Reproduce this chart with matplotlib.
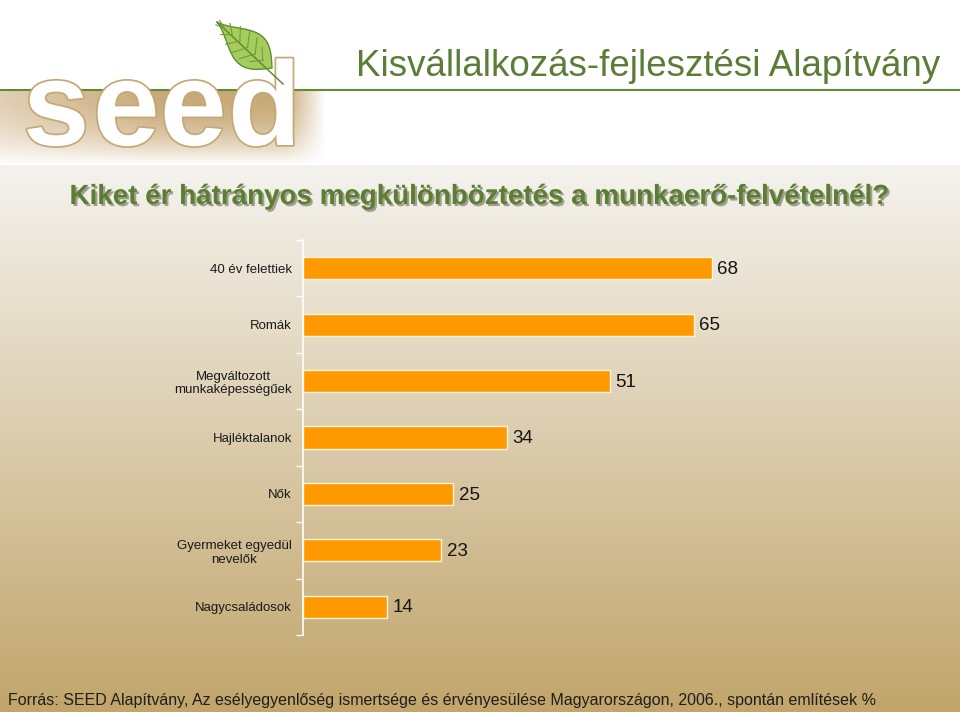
import numpy as np
import matplotlib
matplotlib.use("Agg")
import matplotlib.pyplot as plt
import matplotlib.patheffects as pe
from matplotlib.patches import Rectangle, Polygon

plt.rcParams['font.family'] = ['Liberation Sans', 'DejaVu Sans']

# data
categories = ['40 év felettiek', 'Romák', 'Megváltozott\nmunkaképességűek',
              'Hajléktalanok', 'Nők', 'Gyermeket egyedül\nnevelők', 'Nagycsaládosok']
values = [68, 65, 51, 34, 25, 23, 14]

header = 'Kisvállalkozás-fejlesztési Alapítvány'
title = 'Kiket ér hátrányos megkülönböztetés a munkaerő-felvételnél?'
source = ('Forrás: SEED Alapítvány, Az esélyegyenlőség ismertsége és érvényesülése '
          'Magyarországon, 2006., spontán említések %')

W, H = 960, 712
fig = plt.figure(figsize=(9.6, 7.12), dpi=100)

# background axes in pixel coordinates
bg = fig.add_axes([0, 0, 1, 1])
bg.set_xlim(0, W)
bg.set_ylim(H, 0)
bg.axis('off')

img = np.ones((H, W, 3))
top = np.array([245, 243, 239]) / 255
bot = np.array([193, 165, 106]) / 255
t = np.clip((np.arange(H) - 165) / (H - 165), 0, 1)[:, None]
grad = top * (1 - t) + bot * t
img[165:] = grad[165:, None, :]
bg.imshow(img, extent=(0, W, H, 0), aspect='auto', zorder=0)

# tan strip behind logo
strip = np.zeros((75, 325, 4))
strip[..., :3] = np.array([200, 168, 118]) / 255
tv = np.linspace(0, 1, 75)[:, None]
a = (1 - tv ** 2) * np.clip(np.linspace(0.55, 1.5, 325), 0, 1)[None, :]
strip[..., 3] = a * np.clip((325 - np.arange(325)) / 40, 0, 1)[None, :]
bg.imshow(strip, extent=(0, 325, 165, 90), aspect='auto', zorder=1)

green = '#4f7a2c'
bg.plot([0, W], [90, 90], color='#5f8a3a', lw=1.5, zorder=2)

# logo "seed", one letter at a time
clip_top = Rectangle((0, 0), W, 90, transform=bg.transData)
clip_bot = Rectangle((0, 90), W, 80, transform=bg.transData)
for ch, lx in zip('seed', [23, 93, 160, 228]):
    t1 = bg.text(lx, 145, ch, fontsize=86, fontweight='bold', color=green,
                 ha='left', va='baseline', zorder=3)
    t1.set_clip_path(clip_top)
    t2 = bg.text(lx, 145, ch, fontsize=86, fontweight='bold', color='white',
                 ha='left', va='baseline', zorder=3,
                 path_effects=[pe.withStroke(linewidth=2.5, foreground='#c4a877')])
    t2.set_clip_path(clip_bot)

# leaf
tip = np.array([217.0, 22.0])
base = np.array([272.0, 68.0])
axis_v = base - tip
L = np.hypot(*axis_v)
u = axis_v / L
n = np.array([-u[1], u[0]])
s = np.linspace(0, 1, 40)
half = 18 * np.sin(np.pi * s ** 1.4)
side1 = tip + np.outer(s * L, u) + np.outer(half, n)
side2 = tip + np.outer(s * L, u) - np.outer(half, n)
leaf = np.vstack([side1, side2[::-1]])
bg.add_patch(Polygon(leaf, closed=True, facecolor='#a6cc5e', edgecolor='#5e8f2f', lw=1.0, zorder=3))
bg.plot([tip[0], 283], [tip[1], 84], color='#5e8f2f', lw=1.1, zorder=4)
for k in range(1, 7):
    f = k / 7.2
    p = tip + u * L * f
    w = 16 * np.sin(np.pi * f ** 1.4)
    for sg in (1, -1):
        q = p + n * w * sg * 0.9 - u * 9
        bg.plot([p[0], q[0]], [p[1], q[1]], color='#6f9e3c', lw=0.8, zorder=4)

bg.text(940, 67, header, fontsize=26.5, color='#5b7d36', ha='right', va='center', zorder=3)

bg.text(479, 197, title, fontsize=20, fontweight='bold', color='#5a7f32',
        ha='center', va='center', zorder=3,
        path_effects=[pe.SimplePatchShadow(offset=(1.5, -1.5), shadow_rgbFace='#6b6b5a', alpha=0.6),
                      pe.Normal()])

bg.text(8, 700, source, fontsize=11.5, color='#1e1e1e', ha='left', va='center', zorder=3)

# bar chart
ax = fig.add_axes([303 / W, 1 - 635 / H, 601 / W, 395 / H])
ax.patch.set_alpha(0)
y = np.arange(len(categories))
ax.barh(y, values, height=0.39, color='#ff9900', edgecolor='#fff4dc', linewidth=1.0, zorder=2)
for yi, v in zip(y, values):
    ax.text(v + 0.9, yi + 0.02, str(v), fontsize=13.5, color='#141414', va='center', ha='left')
ax.set_xlim(0, 100)
ax.set_ylim(len(categories) - 0.5, -0.5)
ax.set_yticks(y)
ax.set_yticklabels(categories, fontsize=9.5, color='#1a1a1a', multialignment='center')
ax.set_yticks(np.arange(len(categories) + 1) - 0.5, minor=True)
ax.tick_params(axis='y', which='major', length=0, pad=8)
ax.tick_params(axis='y', which='minor', length=5, color='white', width=1)
ax.set_xticks([])
for sp in ['top', 'right', 'bottom']:
    ax.spines[sp].set_visible(False)
ax.spines['left'].set_color('white')
ax.spines['left'].set_linewidth(1.2)

fig.savefig('out.png', dpi=100)
